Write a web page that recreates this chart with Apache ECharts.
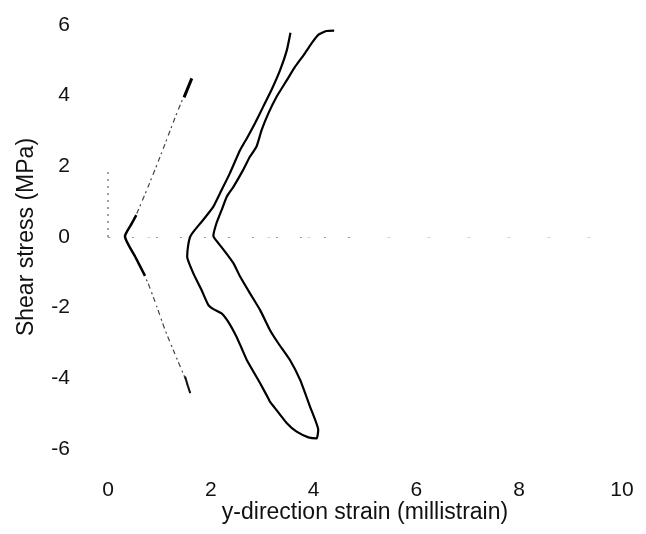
<!DOCTYPE html>
<html>
<head>
<meta charset="utf-8">
<script src="https://cdn.jsdelivr.net/npm/echarts@6/dist/echarts.min.js"></script>
<style>
html,body{margin:0;padding:0;background:#fff;}
#chart{width:646px;height:534px;}
</style>
</head>
<body>
<div id="chart"></div>
<script>
// x tick labels (millistrain) and y tick labels (MPa)
var xTicks = [0, 2, 4, 6, 8, 10];
var yTicks = [-6, -4, -2, 0, 2, 4, 6];

// Main solid hysteresis curve (strain, stress)
var mainX = [3.55, 3.48, 3.35, 3.18, 3.02, 2.86, 2.70, 2.57, 2.37, 2.18, 2.05, 1.85, 1.69, 1.60, 1.56, 1.54, 1.66, 1.82, 1.95, 2.05, 2.21, 2.34, 2.50, 2.60, 2.70, 2.96, 3.12, 3.15, 3.28, 3.48, 3.67, 3.90, 4.06,
             4.09, 3.93, 3.74, 3.54, 3.31, 3.15, 2.96, 2.76, 2.57, 2.44, 2.28, 2.15, 2.05, 2.11, 2.21, 2.31, 2.44, 2.63, 2.76, 2.89, 2.99, 3.12, 3.28, 3.48, 3.64, 3.83, 3.96, 4.09, 4.25, 4.40];
var mainY = [5.78, 5.29, 4.73, 4.16, 3.69, 3.22, 2.79, 2.46, 1.80, 1.24, 0.86, 0.48, 0.20, 0.01, -0.23, -0.56, -1.03, -1.50, -1.92, -2.04, -2.16, -2.40, -2.82, -3.15, -3.48, -4.14, -4.57, -4.66, -4.90, -5.27, -5.51, -5.67, -5.70,
             -5.46, -4.80, -4.05, -3.48, -3.00, -2.63, -2.07, -1.59, -1.12, -0.74, -0.42, -0.18, 0.03, 0.39, 0.76, 1.14, 1.42, 1.90, 2.27, 2.56, 3.03, 3.50, 3.97, 4.44, 4.82, 5.20, 5.48, 5.72, 5.83, 5.84];

// Faint (broken) curve near the origin
var faintX = [1.60, 1.50, 1.27, 1.11, 0.95, 0.78, 0.69, 0.53, 0.33, 0.53, 0.78, 1.04, 1.30, 1.50, 1.63];
var faintY = [-4.42, -4.00, -3.20, -2.63, -1.97, -1.31, -1.03, -0.56, 0.02, 0.57, 1.42, 2.37, 3.36, 4.07, 4.49];

// Solid darker pieces of the faint curve
var faintSolidX = [0.72, 0.53, 0.33, 0.45, 0.55];
var faintSolidY = [-1.10, -0.56, 0.02, 0.35, 0.62];
var faintTopX = [1.48, 1.63];
var faintTopY = [3.95, 4.49];
var faintHookX = [1.50, 1.55, 1.60];
var faintHookY = [-3.95, -4.20, -4.42];

// Vertical dotted trace at zero strain
var vertX = [0, 0];
var vertY = [0, 1.95];

function zip(a, b) { return a.map(function (v, i) { return [v, b[i]]; }); }

var chart = echarts.init(document.getElementById('chart'), null, {renderer: 'canvas'});
var font = 'Liberation Sans, Arial, sans-serif';
chart.setOption({
  animation: false,
  backgroundColor: '#fff',
  grid: {left: 108, right: 24, top: 25, bottom: 85},
  xAxis: {
    type: 'value', min: xTicks[0], max: xTicks[xTicks.length - 1], interval: 2,
    name: 'y-direction strain (millistrain)', nameLocation: 'middle', nameGap: 52,
    nameMoveOverlap: false,
    nameTextStyle: {fontSize: 23, color: '#111', fontFamily: font},
    axisLine: {show: true, lineStyle: {color: '#d0d0d0', width: 1, type: [2, 38]}},
    axisTick: {show: false},
    splitLine: {show: false},
    axisLabel: {fontSize: 21, color: '#111', fontFamily: font, margin: 31}
  },
  yAxis: {
    type: 'value', min: yTicks[0], max: yTicks[yTicks.length - 1], interval: 2,
    name: 'Shear stress (MPa)', nameLocation: 'middle', nameGap: 70,
    nameMoveOverlap: false,
    nameTextStyle: {fontSize: 23, color: '#111', fontFamily: font},
    axisLine: {show: false},
    axisTick: {show: false},
    splitLine: {show: false},
    axisLabel: {fontSize: 21, color: '#111', fontFamily: font, margin: 38}
  },
  series: [
    {
      type: 'line', data: zip(mainX, mainY), showSymbol: false, smooth: 0.15,
      lineStyle: {color: '#000', width: 2.2}
    },
    {
      type: 'line', data: zip(faintX, faintY), showSymbol: false, smooth: 0.2,
      lineStyle: {color: '#444', width: 1.2, type: [5, 3, 2, 4]},
      markLine: {
        silent: true, symbol: 'none', label: {show: false},
        lineStyle: {color: '#999', width: 1, type: [2, 22]},
        data: [[{coord: [0, 0]}, {coord: [4.8, 0]}]]
      }
    },
    {
      type: 'line', data: zip(faintSolidX, faintSolidY), showSymbol: false, smooth: 0.2,
      lineStyle: {color: '#000', width: 2.5}
    },
    {
      type: 'line', data: zip(faintTopX, faintTopY), showSymbol: false,
      lineStyle: {color: '#000', width: 3}
    },
    {
      type: 'line', data: zip(faintHookX, faintHookY), showSymbol: false,
      lineStyle: {color: '#111', width: 2}
    },
    {
      type: 'line', data: zip(vertX, vertY), showSymbol: false,
      lineStyle: {color: '#444', width: 1, type: [2, 5]}
    }
  ]
});
</script>
</body>
</html>
